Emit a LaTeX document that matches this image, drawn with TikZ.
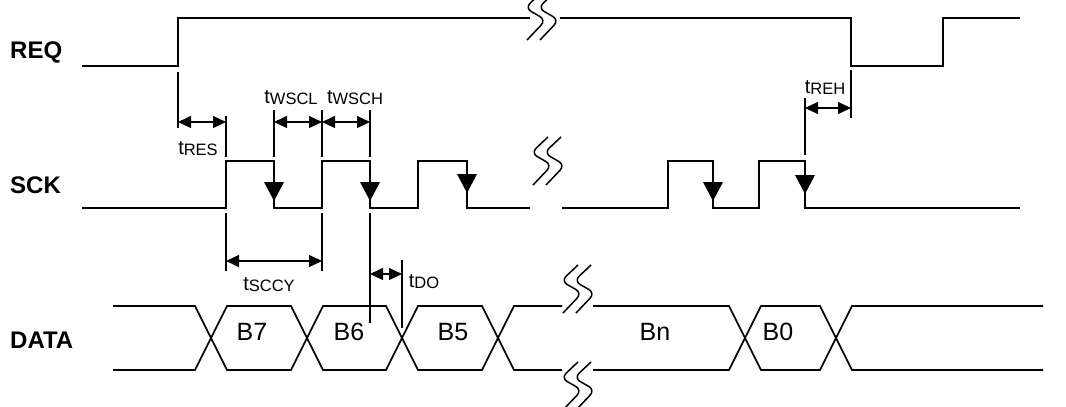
\documentclass[tikz,border=0pt]{standalone}
\usepackage{fontspec}
\setmainfont{Liberation Sans}
\usetikzlibrary{arrows.meta}
\newcommand\tlab[1]{{\fontsize{20}{20}\selectfont t}\raisebox{-1.2pt}{\fontsize{16.5}{16.5}\selectfont #1}}
\begin{document}
\begin{tikzpicture}[x=1pt,y=-1pt,
  sig/.style={line width=1.6pt, line join=miter},
  ext/.style={line width=1.2pt},
  dim/.style={line width=1.2pt, {Triangle[length=13pt,width=12pt]}-{Triangle[length=13pt,width=12pt]}},
  brkline/.style={line width=1.5pt, rounded corners=7pt},
  siglab/.style={font=\fontsize{24}{24}\selectfont\bfseries, anchor=base west, inner sep=0pt},
  bitlab/.style={font=\fontsize{25}{25}\selectfont, anchor=base, inner sep=0pt},
  tl/.style={anchor=base, inner sep=0pt},
  brkmark/.pic={
    \draw[brkline] (16,0) -- (-1,16) -- (20,28) -- (1,48);
    \draw[brkline] (29,0) -- (12,16) -- (33,28) -- (14,48);
  },
  fallarrow/.pic={\fill (-10,0) -- (10,0) -- (0,19) -- cycle;}
]
\useasboundingbox (0,0) rectangle (1066,407);
\clip (0,0) rectangle (1066,407);

% signal names
\node[siglab] (req) at (10,58) {REQ};
\node[siglab] (sck) at (10,193) {SCK};
\node[siglab] (data) at (10,348) {DATA};

% REQ
\draw[sig] (82,66) -- (178,66) -- (178,18) -- (530,18);
\draw[sig] (560,18) -- (851,18) -- (851,66) -- (943,66) -- (943,18) -- (1020,18);
\pic at (526,-8) {brkmark};

% SCK
\draw[sig] (82,208) -- (226,208) -- (226,161) -- (274,161) -- (274,208) -- (322,208)
  -- (322,161) -- (370,161) -- (370,208) -- (418,208) -- (418,161) -- (467,161)
  -- (467,208) -- (530,208);
\draw[sig] (562,208) -- (668,208) -- (668,161) -- (713,161) -- (713,208) -- (759,208)
  -- (759,161) -- (805,161) -- (805,208) -- (1020,208);
\pic at (532,137) {brkmark};
\pic at (274,182) {fallarrow};
\pic at (370,182) {fallarrow};
\pic at (467,174) {fallarrow};
\pic at (713,182) {fallarrow};
\pic at (805,175) {fallarrow};

% DATA
\draw[sig] (113,306) -- (195,306) -- (227,370) -- (291,370) -- (323,306) -- (386,306)
  -- (418,370) -- (482,370) -- (514,306) -- (562,306);
\draw[sig] (113,370) -- (195,370) -- (227,306) -- (291,306) -- (323,370) -- (386,370)
  -- (418,306) -- (482,306) -- (514,370) -- (562,370);
\draw[sig] (593,306) -- (729,306) -- (761,370) -- (820,370) -- (852,306) -- (1043,306);
\draw[sig] (593,370) -- (729,370) -- (761,306) -- (820,306) -- (852,370) -- (1043,370);
\pic at (562,265) {brkmark};
\pic at (562,362) {brkmark};

\node[bitlab] (b7) at (252,340) {B7};
\node[bitlab] (b6) at (349,340) {B6};
\node[bitlab] (b5) at (453,340) {B5};
\node[bitlab] (bn) at (655,340) {Bn};
\node[bitlab] (b0) at (778,340) {B0};

% extension lines
\draw[ext] (178,72) -- (178,128);
\draw[ext] (226,116) -- (226,157);
\draw[ext] (274,110) -- (274,157);
\draw[ext] (322,110) -- (322,157);
\draw[ext] (370,110) -- (370,157);
\draw[ext] (226,213) -- (226,271);
\draw[ext] (322,213) -- (322,271);
\draw[ext] (370,213) -- (370,323);
\draw[ext] (402,260) -- (402,328);
\draw[ext] (851,70) -- (851,118);
\draw[ext] (805,98) -- (805,155);

% dimension arrows
\draw[dim] (178,122) -- (226,122);
\draw[dim] (274,122) -- (322,122);
\draw[dim] (322,122) -- (370,122);
\draw[dim] (226,261) -- (322,261);
\draw[dim] (370,274) -- (402,274);
\draw[dim] (805,108) -- (851,108);

% timing labels
\node[tl] (tres) at (198,154) {\tlab{RES}};
\node[tl] (twscl) at (291,103) {\tlab{WSCL}};
\node[tl] (twsch) at (355,103) {\tlab{WSCH}};
\node[tl] (tsccy) at (269,290) {\tlab{SCCY}};
\node[tl] (tdo) at (424,287) {\tlab{DO}};
\node[tl] (treh) at (825,93) {\tlab{REH}};
\end{tikzpicture}
\end{document}
